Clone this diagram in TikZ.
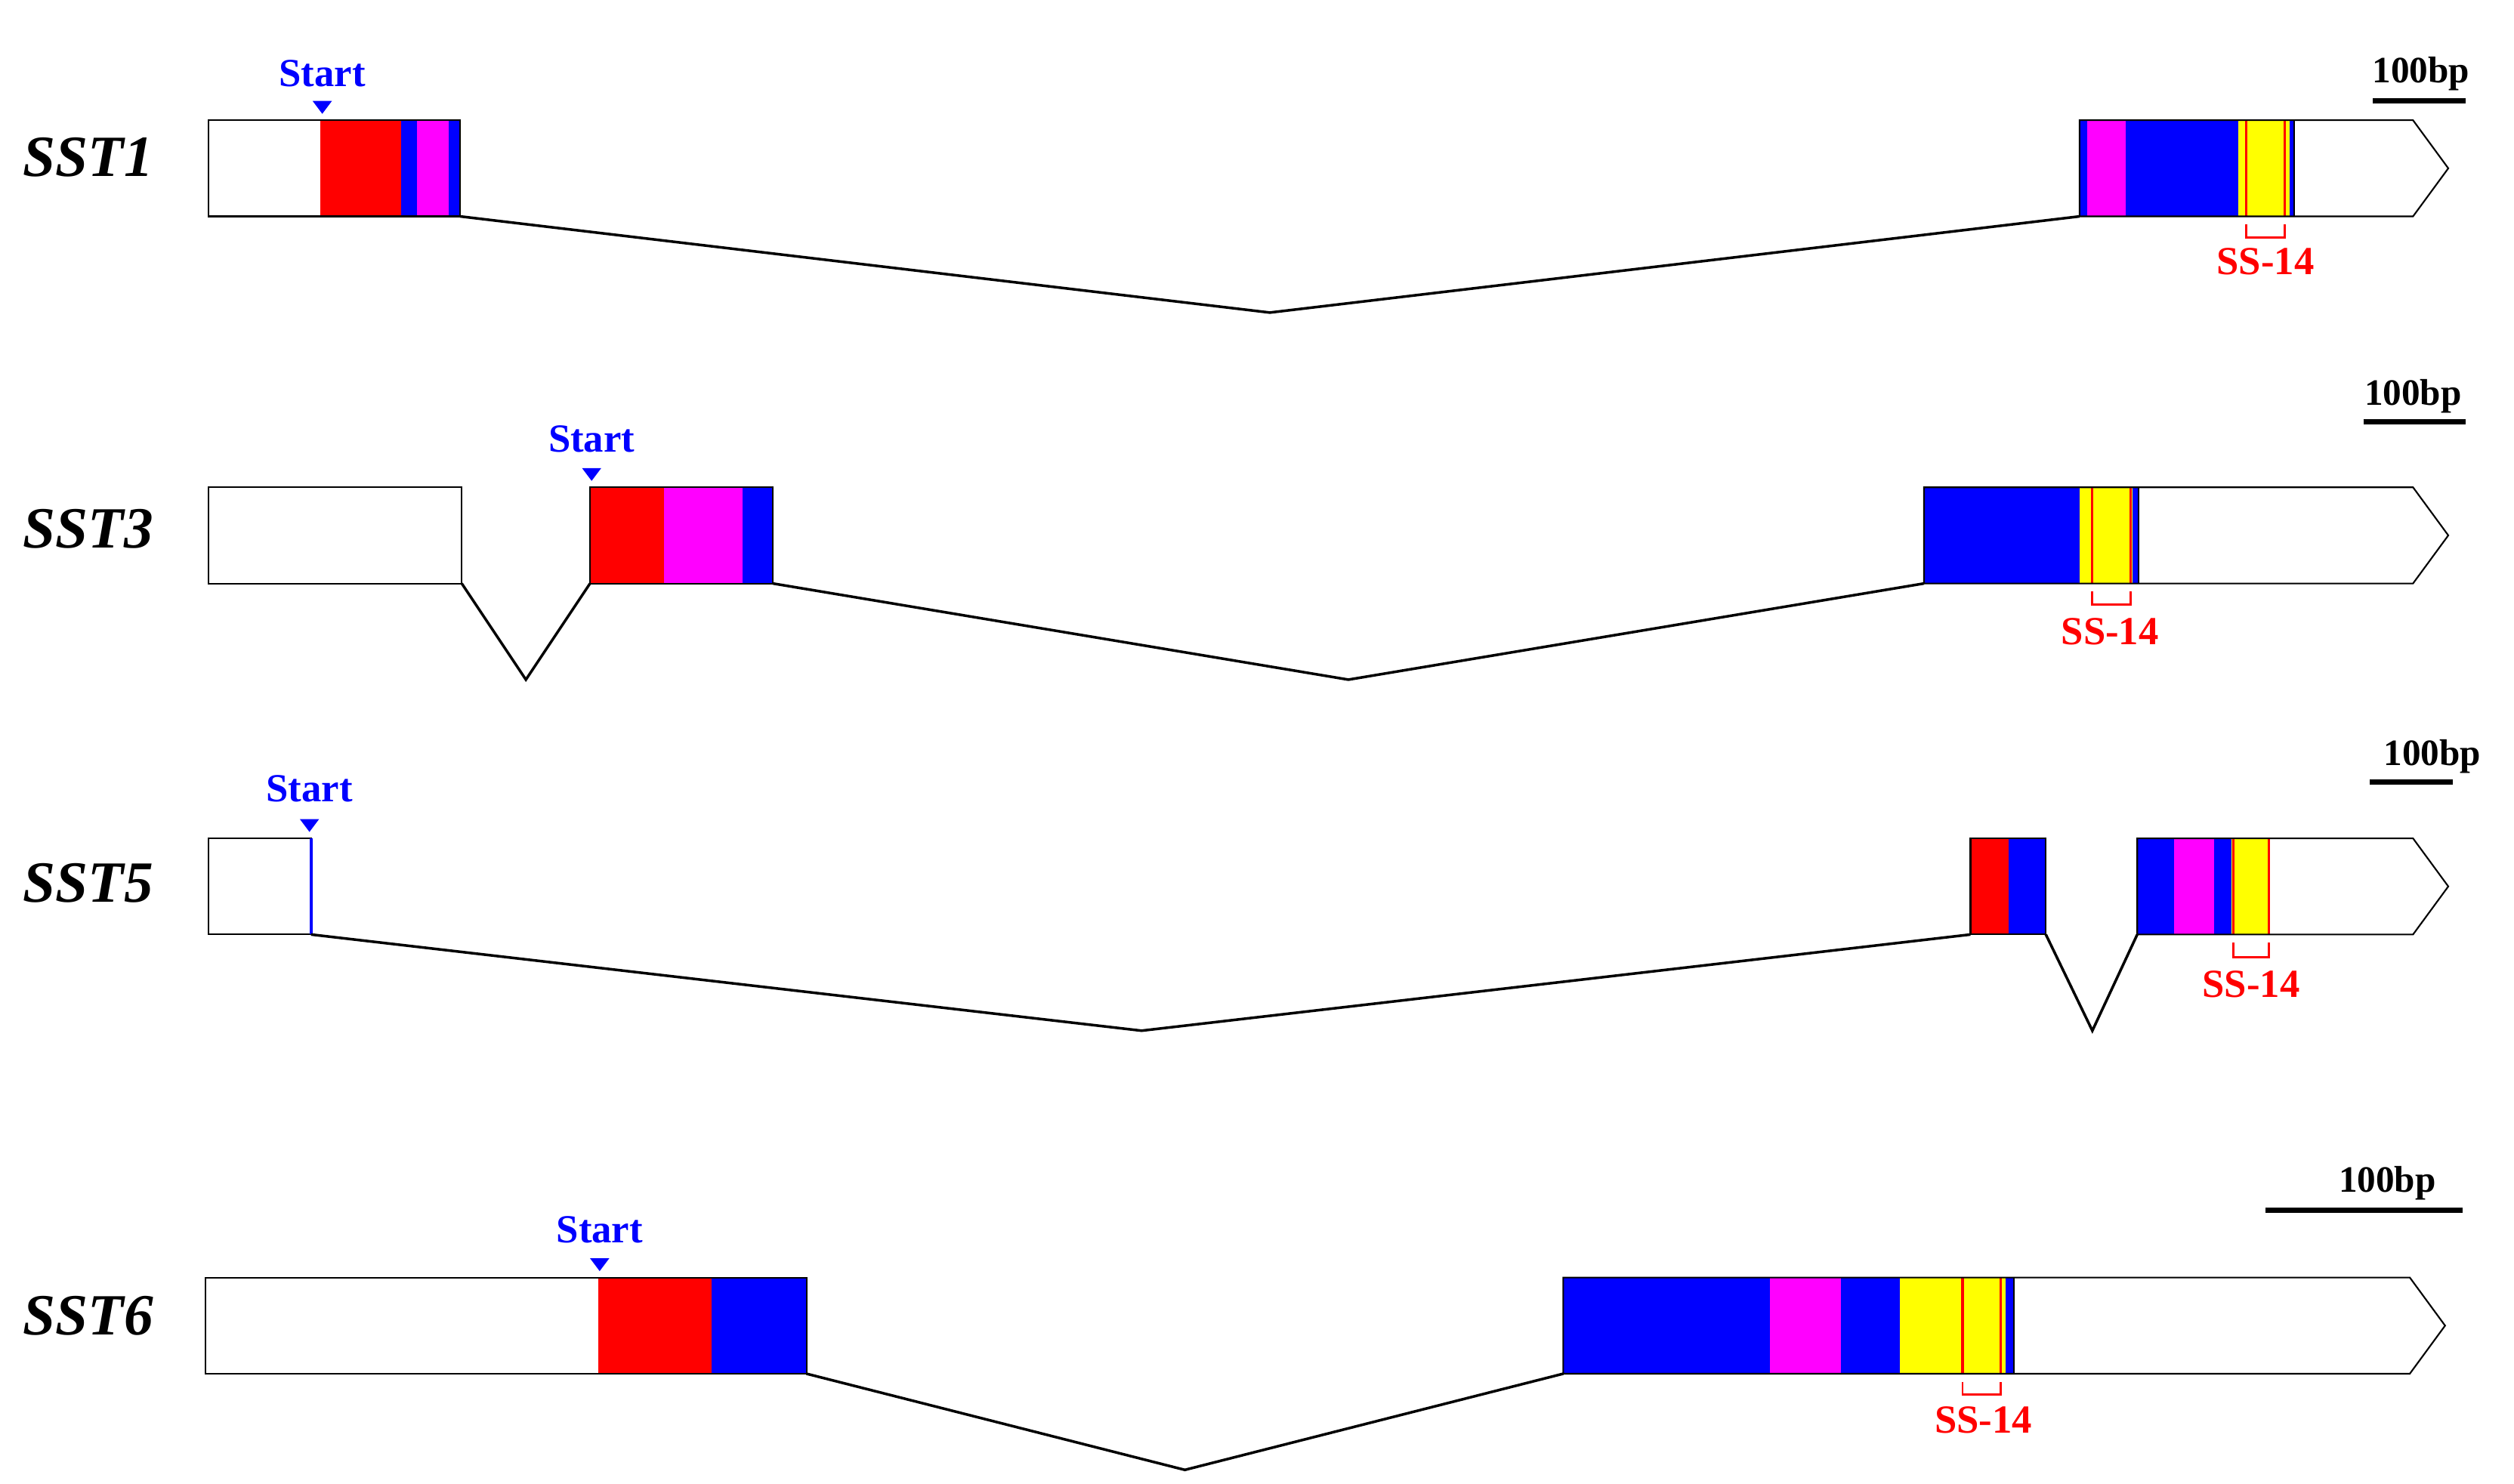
\documentclass[tikz,border=0pt]{standalone}
\usepackage{fontspec}
\setmainfont{Liberation Serif}
\definecolor{bl}{RGB}{0,0,255}
\definecolor{mg}{RGB}{255,0,255}
\definecolor{rd}{RGB}{255,0,0}
\definecolor{yl}{RGB}{255,255,0}
\begin{document}
\begin{tikzpicture}[x=0.021224cm,y=-0.021224cm,
  exonline/.style={draw=black,line width=0.6pt},
  intron/.style={draw=black,line width=1pt},
  genelab/.style={font=\fontsize{22}{24}\selectfont\bfseries\itshape},
  startlab/.style={text=bl,font=\fontsize{15}{17}\selectfont\bfseries},
  sslab/.style={text=rd,font=\fontsize{15}{17}\selectfont\bfseries},
  bplab/.style={font=\fontsize{14}{16}\selectfont\bfseries},
  ssline/.style={draw=rd,line width=0.9pt},
  brk/.style={draw=rd,line width=0.8pt},
  scalebar/.style={draw=black,line width=2pt}]
\useasboundingbox (0,0) rectangle (1568,925.4);
% helper macros
\newcommand{\seg}[4]{\fill[#1] (#2,#3) rectangle (#4,#3+60);}
% ---------- SST1 ----------
\node[genelab] (g1) at (55,98) {SST1};
\seg{white}{130}{75}{200}\seg{rd}{200}{75}{250}\seg{bl}{250}{75}{260}\seg{mg}{260}{75}{280}\seg{bl}{280}{75}{287}
\draw[exonline] (130,75) rectangle (287,135);
\seg{bl}{1297}{75}{1302}\seg{mg}{1302}{75}{1326}\seg{bl}{1326}{75}{1396}\seg{yl}{1396}{75}{1428}\seg{bl}{1428}{75}{1431}
\draw[ssline] (1401,75)--(1401,135); \draw[ssline] (1425,75)--(1425,135);
\draw[exonline] (1297,75)--(1505,75)--(1527,105)--(1505,135)--(1297,135)--cycle; \draw[exonline] (1431,75)--(1431,135);
\coordinate (a1) at (287,135); \coordinate (b1) at (792,195); \coordinate (c1) at (1297,135);
\draw[intron] (a1)--(b1)--(c1);
\draw[brk] (1401,140)--(1401,148)--(1425,148)--(1425,140);
\node[sslab] (s1) at (1413,163) {SS-14};
\node[startlab] (st1) at (201,46) {Start};
\fill[bl] (195,63)--(207,63)--(201,71)--cycle;
\node[bplab] (bp1) at (1510,46) {100bp};
\draw[scalebar] (1480,63)--(1538,63);
% ---------- SST3 ----------
\node[genelab] (g3) at (55,330) {SST3};
\draw[exonline,fill=white] (130,304) rectangle (288,364);
\seg{rd}{368}{304}{414}\seg{mg}{414}{304}{463}\seg{bl}{463}{304}{482}
\draw[exonline] (368,304) rectangle (482,364);
\seg{bl}{1200}{304}{1297}\seg{yl}{1297}{304}{1330}\seg{bl}{1330}{304}{1334}
\draw[ssline] (1305,304)--(1305,364); \draw[ssline] (1329,304)--(1329,364);
\draw[exonline] (1200,304)--(1505,304)--(1527,334)--(1505,364)--(1200,364)--cycle; \draw[exonline] (1334,304)--(1334,364);
\coordinate (a3) at (288,364); \coordinate (b3) at (328,424); \coordinate (c3) at (368,364);
\draw[intron] (a3)--(b3)--(c3);
\coordinate (d3) at (482,364); \coordinate (e3) at (841,424); \coordinate (f3) at (1200,364);
\draw[intron] (d3)--(e3)--(f3);
\draw[brk] (1305,369)--(1305,377)--(1329,377)--(1329,369);
\node[sslab] (s3) at (1316,394) {SS-14};
\node[startlab] (st3) at (369,274) {Start};
\fill[bl] (363,292)--(375,292)--(369,300)--cycle;
\node[bplab] (bp3) at (1505,247) {100bp};
\draw[scalebar] (1474,263)--(1538,263);
% ---------- SST5 ----------
\node[genelab] (g5) at (55,551) {SST5};
\draw[exonline,fill=white] (130,523) rectangle (194,583);
\draw[draw=bl,line width=1pt] (194,523)--(194,583);
\seg{rd}{1229}{523}{1253}\seg{bl}{1253}{523}{1276}
\draw[exonline] (1229,523) rectangle (1276,583);
\seg{bl}{1333}{523}{1356}\seg{mg}{1356}{523}{1381}\seg{bl}{1381}{523}{1392}\seg{yl}{1392}{523}{1416}
\draw[ssline] (1393,523)--(1393,583); \draw[ssline] (1415,523)--(1415,583);
\draw[exonline] (1333,523)--(1505,523)--(1527,553)--(1505,583)--(1333,583)--cycle;
\coordinate (a5) at (194,583); \coordinate (b5) at (712,643); \coordinate (c5) at (1229,583);
\draw[intron] (a5)--(b5)--(c5);
\coordinate (d5) at (1276,583); \coordinate (e5) at (1305,643); \coordinate (f5) at (1333,583);
\draw[intron] (d5)--(e5)--(f5);
\draw[brk] (1393,588)--(1393,597)--(1415,597)--(1415,588);
\node[sslab] (s5) at (1404,614) {SS-14};
\node[startlab] (st5) at (193,492) {Start};
\fill[bl] (187,511)--(199,511)--(193,519)--cycle;
\node[bplab] (bp5) at (1517,472) {100bp};
\draw[scalebar] (1478,488)--(1530,488);
% ---------- SST6 ----------
\node[genelab] (g6) at (55,821) {SST6};
\seg{white}{128}{797}{373}\seg{rd}{373}{797}{444}\seg{bl}{444}{797}{503}
\draw[exonline] (128,797) rectangle (503,857);
\seg{bl}{975}{797}{1104}\seg{mg}{1104}{797}{1148}\seg{bl}{1148}{797}{1185}\seg{yl}{1185}{797}{1251}\seg{bl}{1251}{797}{1256}
\draw[ssline] (1224,797)--(1224,857); \draw[ssline] (1248,797)--(1248,857);
\draw[exonline] (975,797)--(1503,797)--(1525,827)--(1503,857)--(975,857)--cycle; \draw[exonline] (1256,797)--(1256,857);
\coordinate (a6) at (503,857); \coordinate (b6) at (739,917); \coordinate (c6) at (975,857);
\draw[intron] (a6)--(b6)--(c6);
\draw[brk] (1224,862)--(1224,870)--(1248,870)--(1248,862);
\node[sslab] (s6) at (1237,886) {SS-14};
\node[startlab] (st6) at (374,767) {Start};
\fill[bl] (368,785)--(380,785)--(374,793)--cycle;
\node[bplab] (bp6) at (1489,738) {100bp};
\draw[scalebar] (1413,755)--(1536,755);
\end{tikzpicture}
\end{document}
